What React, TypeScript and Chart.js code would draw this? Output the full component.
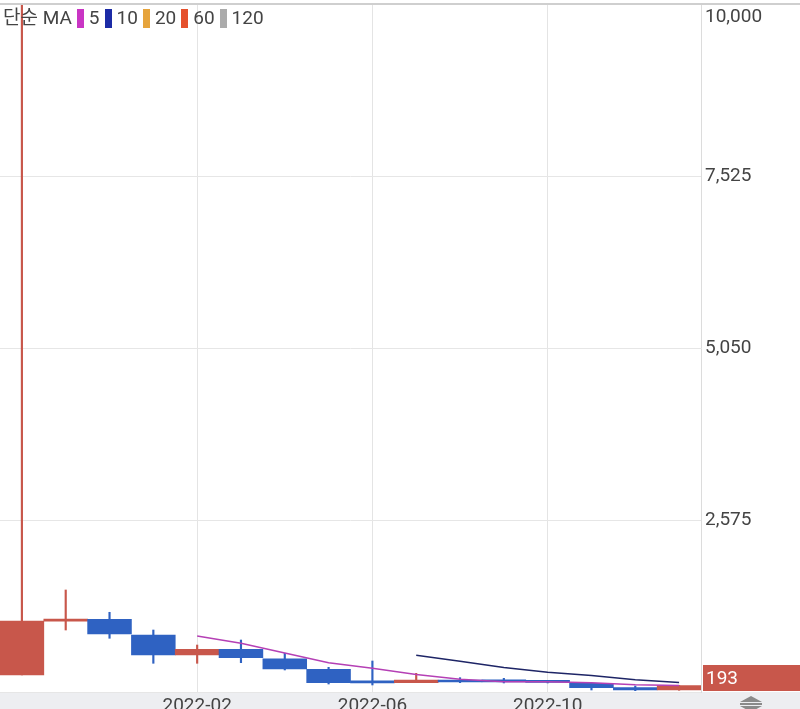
import React, { useEffect, useRef } from "react";
import { Chart, registerables } from "chart.js";

Chart.register(...registerables);

const months = [
  "2021-10", "2021-11", "2021-12", "2022-01", "2022-02", "2022-03", "2022-04", "2022-05",
  "2022-06", "2022-07", "2022-08", "2022-09", "2022-10", "2022-11", "2022-12", "2023-01",
];
const openVals = [345, 1120, 1146, 920, 632, 714, 579, 427, 236, 234, 273, 250, 240, 225, 162, 129];
const closeVals = [1122, 1128, 935, 632, 714, 594, 431, 234, 232, 273, 244, 245, 238, 162, 129, 193];
const highVals = [10000, 1568, 1247, 992, 776, 848, 657, 455, 546, 369, 306, 297, 250, 225, 186, 193];
const lowVals = [345, 992, 873, 513, 513, 522, 417, 215, 201, 234, 234, 230, 230, 129, 119, 125];
const ma5 = [null, null, null, null, 906, 800, 661, 521, 441, 353, 283, 246, 247, 232, 204, 193];
const ma10 = [null, null, null, null, null, null, null, null, null, 629, 542, 454, 384, 337, 278, 238];
const xTickLabels = ["2022-02", "2022-06", "2022-10"];
const yTickValues = [100, 2575, 5050, 7525, 10000];
const lastPrice = 193;

const legendItems = [
  { label: "5", color: "#C935C4" },
  { label: "10", color: "#1C2BA6" },
  { label: "20", color: "#E6A43C" },
  { label: "60", color: "#E5502C" },
  { label: "120", color: "#ABABAB" },
];

const UP = "#C8574B";
const DOWN = "#2F62C2";
const FONT = "Roboto, 'Noto Sans CJK KR', sans-serif";

export default function App() {
  const ref = useRef<HTMLCanvasElement>(null);

  useEffect(() => {
    const canvas = ref.current!;
    const colors = closeVals.map((c, i) => (c >= openVals[i] ? UP : DOWN));

    const decor = {
      id: "decor",
      beforeDraw(chart: any) {
        const { ctx, chartArea, width, height } = chart;
        ctx.save();
        ctx.fillStyle = "#ffffff";
        ctx.fillRect(0, 0, width, height);
        ctx.fillStyle = "#EDEEF1";
        ctx.fillRect(0, chartArea.bottom, width, height - chartArea.bottom);
        ctx.restore();
      },
      afterDraw(chart: any) {
        const { ctx, chartArea, width } = chart;
        const y = chart.scales.y;
        ctx.save();
        ctx.strokeStyle = "#cfcfcf";
        ctx.lineWidth = 2;
        ctx.beginPath();
        ctx.moveTo(0, chartArea.top);
        ctx.lineTo(width, chartArea.top);
        ctx.stroke();
        const py = y.getPixelForValue(lastPrice);
        const h = 26;
        const cy = Math.min(py, chartArea.bottom - h / 2 - 1);
        ctx.fillStyle = UP;
        ctx.fillRect(chartArea.right + 2, cy - h / 2, width - chartArea.right - 2, h);
        ctx.fillStyle = "#ffffff";
        ctx.font = `19px ${FONT}`;
        ctx.textBaseline = "middle";
        ctx.textAlign = "left";
        ctx.fillText(String(lastPrice), chartArea.right + 5, cy + 1);
        ctx.fillStyle = "#8a8a8a";
        const cx = 751;
        ctx.beginPath();
        ctx.moveTo(cx - 11, 702);
        ctx.lineTo(cx + 11, 702);
        ctx.lineTo(cx, 696);
        ctx.closePath();
        ctx.fill();
        ctx.fillRect(cx - 11, 703, 22, 2);
        ctx.beginPath();
        ctx.moveTo(cx - 11, 706);
        ctx.lineTo(cx + 11, 706);
        ctx.lineTo(cx, 712);
        ctx.closePath();
        ctx.fill();
        ctx.restore();
      },
    };

    const chart = new Chart(canvas, {
      type: "bar",
      data: {
        labels: months,
        datasets: [
          {
            type: "line",
            label: "MA5",
            data: ma5 as any,
            borderColor: "#B540B5",
            borderWidth: 1.5,
            pointRadius: 0,
            tension: 0,
            order: 1,
          } as any,
          {
            type: "line",
            label: "MA10",
            data: ma10 as any,
            borderColor: "#1E2566",
            borderWidth: 1.5,
            pointRadius: 0,
            tension: 0,
            order: 1,
          } as any,
          {
            label: "body",
            data: openVals.map((o, i) => [o, closeVals[i]]) as any,
            backgroundColor: colors,
            borderColor: colors,
            borderWidth: 0,
            barPercentage: 1,
            categoryPercentage: 1,
            grouped: false,
            minBarLength: 2,
            order: 2,
          } as any,
          {
            label: "wick",
            data: lowVals.map((l, i) => [l, highVals[i]]) as any,
            backgroundColor: colors,
            barThickness: 1.5,
            grouped: false,
            order: 3,
          } as any,
        ],
      },
      options: {
        animation: false,
        responsive: false,
        events: [],
        layout: { autoPadding: false, padding: { top: 4, left: 0, right: 0, bottom: 0 } } as any,
        plugins: { legend: { display: false }, tooltip: { enabled: false } },
        scales: {
          x: {
            offset: true,
            grid: {
              offset: false,
              drawTicks: false,
              color: (ctx: any) =>
                ctx.tick && xTickLabels.includes(months[ctx.index]) ? "#e4e4e4" : "rgba(0,0,0,0)",
            },
            border: { display: false },
            ticks: {
              autoSkip: false,
              maxRotation: 0,
              padding: 3,
              color: "#444",
              font: { size: 19, family: FONT },
              callback: (_v: any, i: number) => (xTickLabels.includes(months[i]) ? months[i] : ""),
            },
            afterFit: (s: any) => {
              s.height = 17;
              s.paddingLeft = 0;
              s.paddingRight = 0;
              s.paddingTop = 0;
              s.paddingBottom = 0;
            },
          },
          y: {
            position: "right",
            min: 100,
            max: 10000,
            grid: { color: "#e6e6e6", drawTicks: false },
            border: { display: true, color: "#dcdcdc" },
            afterBuildTicks: (s: any) => {
              s.ticks = yTickValues.map((v) => ({ value: v }));
            },
            ticks: {
              padding: 4,
              color: "#444",
              font: { size: 19, family: FONT, lineHeight: 1.4 },
              callback: (v: any) => {
                const n = Number(v);
                if (n === yTickValues[0]) return "";
                const s = n.toLocaleString("en-US");
                return n === yTickValues[yTickValues.length - 1] ? ["", s] : s;
              },
            },
            afterFit: (s: any) => {
              s.width = 99;
              s.paddingTop = 0;
              s.paddingBottom = 0;
              s.paddingLeft = 0;
              s.paddingRight = 0;
            },
          },
        },
      },
      plugins: [decor],
    });
    return () => chart.destroy();
  }, []);

  return (
    <div style={{ position: "absolute", left: 0, top: 0, width: 800, height: 709, overflow: "hidden" }}>
      <canvas ref={ref} width={800} height={709} style={{ display: "block" }} />
      <div
        style={{
          position: "absolute",
          left: 3,
          top: 7,
          display: "flex",
          alignItems: "center",
          fontFamily: FONT,
          fontSize: 19,
          color: "#444",
          lineHeight: "22px",
          whiteSpace: "nowrap",
        }}
      >
        <span>단순 MA</span>
        {legendItems.map((it) => (
          <span key={it.label} style={{ display: "inline-flex", alignItems: "center" }}>
            <span
              style={{
                display: "inline-block",
                width: 7,
                height: 19,
                background: it.color,
                marginLeft: 5,
                marginRight: 5,
              }}
            />
            <span>{it.label}</span>
          </span>
        ))}
      </div>
    </div>
  );
}
